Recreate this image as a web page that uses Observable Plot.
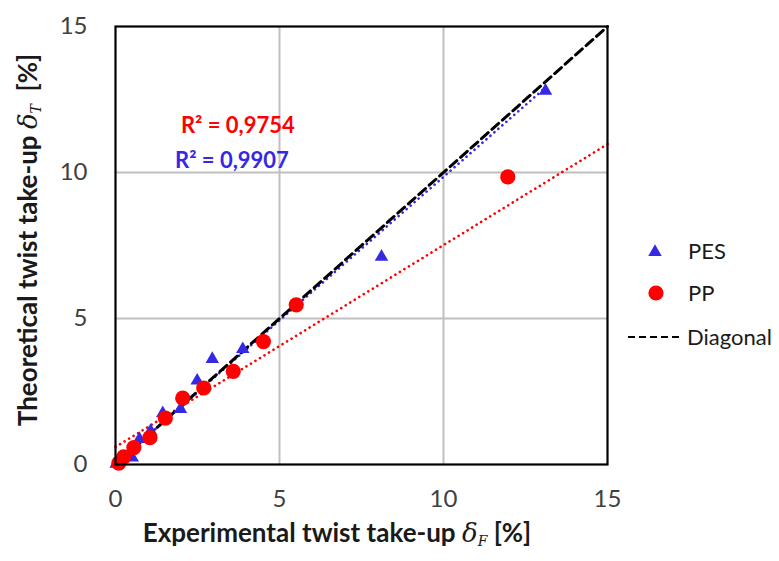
<!DOCTYPE html>
<html>
<head>
<meta charset="utf-8">
<script src="https://cdn.jsdelivr.net/npm/d3@7"></script>
<script src="https://cdn.jsdelivr.net/npm/@observablehq/plot@0.6"></script>
<style>
  html, body { margin: 0; padding: 0; background: white; }
  #chart { width: 779px; height: 561px; }
</style>
</head>
<body>
<div id="chart"></div>
<script>
// ---- data ----
const pesX = [0.02, 0.51, 0.73, 1.07, 1.44, 1.98, 2.49, 2.95, 3.88, 8.11, 13.11];
const pesY = [0.02, 0.24, 0.87, 1.15, 1.75, 1.90, 2.87, 3.61, 3.95, 7.11, 12.80];
const ppX = [0.10, 0.25, 0.56, 1.05, 1.52, 2.05, 2.69, 3.59, 4.51, 5.51, 11.96];
const ppY = [0.05, 0.26, 0.58, 0.92, 1.59, 2.27, 2.62, 3.19, 4.21, 5.47, 9.85];
// trend lines (Excel linear trendlines) endpoints
const pesTrendX = [0, 13.1];
const pesTrendY = [0.02, 12.9];
const ppTrendX = [0, 15];
const ppTrendY = [0.6, 10.97];
const diagX = [0, 15];
const diagY = [0, 15];
const ticks = [0, 5, 10, 15];
const gridTicks = [5, 10];
const seriesNames = ["PES", "PP", "Diagonal"];
const r2Labels = ["R² = 0,9754", "R² = 0,9907"];

const blue = "#3529e6";
const red = "#ff0000";

const pes = pesX.map((x, i) => ({x, y: pesY[i]}));
const pp = ppX.map((x, i) => ({x, y: ppY[i]}));
const pesTrend = pesTrendX.map((x, i) => ({x, y: pesTrendY[i]}));
const ppTrend = ppTrendX.map((x, i) => ({x, y: ppTrendY[i]}));
const diag = diagX.map((x, i) => ({x, y: diagY[i]}));

const plot = Plot.plot({
  width: 779,
  height: 561,
  marginLeft: 115,
  marginRight: 172,
  marginTop: 26,
  marginBottom: 97,
  style: {fontFamily: "Lato, 'Open Sans', sans-serif", background: "white", overflow: "visible"},
  x: {domain: [0, 15]},
  y: {domain: [0, 15]},
  marks: [
    Plot.gridX(gridTicks, {stroke: "#c0c0c0", strokeOpacity: 1, strokeWidth: 2}),
    Plot.gridY(gridTicks, {stroke: "#c0c0c0", strokeOpacity: 1, strokeWidth: 2}),
    Plot.axisX({ticks, tickSize: 0, tickPadding: 25, label: null, fontSize: 24, fill: "#404040", tickFormat: d => d}),
    Plot.axisY({ticks, tickSize: 0, tickPadding: 28, label: null, fontSize: 24, fill: "#404040", tickFormat: d => d}),
    Plot.line(ppTrend, {x: "x", y: "y", stroke: red, strokeWidth: 2.6, strokeDasharray: "0.1 5.2", strokeLinecap: "round"}),
    Plot.line(pesTrend, {x: "x", y: "y", stroke: blue, strokeWidth: 2.6, strokeDasharray: "0.1 5.2", strokeLinecap: "round"}),
    Plot.line(diag, {x: "x", y: "y", stroke: "black", strokeWidth: 3, strokeDasharray: "9 5"}),
    Plot.dot(pes, {x: "x", y: "y", symbol: "triangle", r: 5, fill: blue, stroke: "none"}),
    Plot.dot(pp, {x: "x", y: "y", r: 7.6, fill: red, stroke: "none"}),
    Plot.text([r2Labels[0]], {x: 3.73, y: 11.61, text: d => d, fill: red, fontSize: 22, fontWeight: "bold"}),
    Plot.text([r2Labels[1]], {x: 3.55, y: 10.38, text: d => d, fill: blue, fontSize: 22, fontWeight: "bold"}),
    Plot.frame({stroke: "black", strokeWidth: 2.2})
  ]
});

document.getElementById("chart").appendChild(plot);

// ---- axis titles with Greek delta and subscripts ----
const svg = d3.select(plot);
const titleFont = "Lato, 'Open Sans', sans-serif";
const greek = "'DejaVu Serif', serif";

const xt = svg.append("text")
  .attr("x", 337).attr("y", 542)
  .attr("text-anchor", "middle")
  .attr("font-family", titleFont).attr("font-size", 26).attr("font-weight", "bold")
  .attr("fill", "#1a1a1a");
xt.append("tspan").text("Experimental twist take-up ");
xt.append("tspan").attr("font-family", greek).attr("font-style", "italic").attr("font-weight", "normal").text("δ");
xt.append("tspan").attr("font-family", greek).attr("font-style", "italic").attr("font-weight", "normal").attr("font-size", 14).attr("dy", 4).text("F");
xt.append("tspan").attr("dy", -4).text(" [%]");

const yt = svg.append("text")
  .attr("transform", "translate(37,240) rotate(-90)")
  .attr("text-anchor", "middle")
  .attr("font-family", titleFont).attr("font-size", 26).attr("font-weight", "bold")
  .attr("fill", "#1a1a1a");
yt.append("tspan").text("Theoretical twist take-up ");
yt.append("tspan").attr("font-family", greek).attr("font-style", "italic").attr("font-weight", "normal").text("δ");
yt.append("tspan").attr("font-family", greek).attr("font-style", "italic").attr("font-weight", "normal").attr("font-size", 14).attr("dy", 4).text("T");
yt.append("tspan").attr("dy", -4).attr("xml:space", "preserve").style("white-space", "pre").text("  [%]");

// ---- legend ----
const lg = svg.append("g").attr("font-family", titleFont).attr("font-size", 22)
  .attr("fill", "#1a1a1a").attr("text-anchor", "start");
lg.append("path")
  .attr("transform", "translate(655,252)")
  .attr("d", d3.symbol(d3.symbolTriangle, 5 * 5 * Math.PI)())
  .attr("fill", blue);
lg.append("circle").attr("cx", 656).attr("cy", 293).attr("r", 7.6).attr("fill", red);
lg.append("line").attr("x1", 628).attr("x2", 683).attr("y1", 337).attr("y2", 337)
  .attr("stroke", "black").attr("stroke-width", 2.2).attr("stroke-dasharray", "7 4");
lg.append("text").attr("x", 688).attr("y", 251).attr("dy", "0.35em").text(seriesNames[0]);
lg.append("text").attr("x", 688).attr("y", 293).attr("dy", "0.35em").text(seriesNames[1]);
lg.append("text").attr("x", 687).attr("y", 337).attr("dy", "0.35em").text(seriesNames[2]);
</script>
</body>
</html>
